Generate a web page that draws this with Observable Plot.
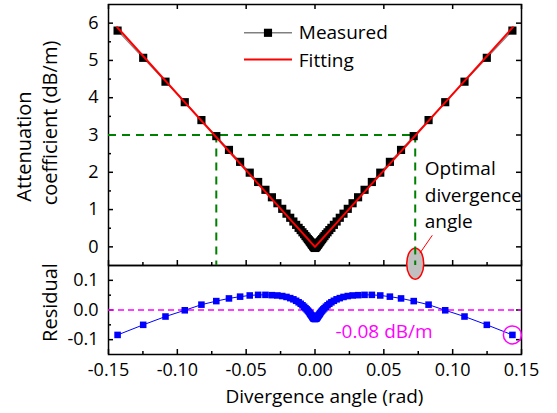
<!DOCTYPE html>
<html><head><meta charset="utf-8">
<script src="https://cdn.jsdelivr.net/npm/d3@7"></script>
<script src="https://cdn.jsdelivr.net/npm/@observablehq/plot@0.6"></script>
<style>
body{margin:0;background:#fff;}
#chart{position:relative;width:557px;height:413px;}
#chart svg{position:absolute;left:0;top:0;}
</style></head><body><div id="chart"></div>
<script>
// Divergence angle (rad)
const angles = [-0.1434,-0.1248,-0.1086,-0.0946,-0.0825,-0.0717,-0.0625,-0.0544,-0.0474,-0.0413,
  -0.036,-0.0313,-0.0273,-0.0238,-0.0207,-0.018,-0.0157,-0.0137,-0.0119,-0.0104,
  -0.0091,-0.0079,-0.0069,-0.006,-0.0052,-0.0045,-0.0039,-0.0034,-0.003,-0.0026,
  -0.0023,-0.002,-0.0017,-0.0015,-0.0013,-0.0011,-0.001,-0.0008,-0.0007,-0.0005,-0.0003,
  0,
  0.0003,0.0005,0.0007,0.0008,0.001,0.0011,0.0013,0.0015,0.0017,0.002,
  0.0023,0.0026,0.003,0.0034,0.0039,0.0045,0.0052,0.006,0.0069,0.0079,
  0.0091,0.0104,0.0119,0.0137,0.0157,0.018,0.0207,0.0238,0.0273,0.0313,
  0.036,0.0413,0.0474,0.0544,0.0625,0.0717,0.0825,0.0946,0.1086,0.1248,0.1434];
// Measured attenuation coefficient (dB/m)
const attenuation = [5.80,5.07,4.43,3.88,3.40,2.97,2.60,2.28,1.99,1.74,
  1.53,1.33,1.17,1.02,0.89,0.78,0.68,0.59,0.51,0.45,
  0.39,0.34,0.29,0.25,0.21,0.18,0.15,0.13,0.11,0.09,
  0.07,0.06,0.05,0.04,0.03,0.02,0.01,0.01,0.00,-0.01,-0.02,
  -0.03,
  -0.02,-0.01,0.00,0.01,0.01,0.02,0.03,0.04,0.05,0.06,
  0.07,0.09,0.11,0.13,0.15,0.18,0.21,0.25,0.29,0.34,
  0.39,0.45,0.51,0.59,0.68,0.78,0.89,1.02,1.17,1.33,
  1.53,1.74,1.99,2.28,2.60,2.97,3.40,3.88,4.43,5.07,5.80];
// Residual (dB/m)
const residuals = [-0.084,-0.050,-0.022,-0.001,0.018,0.030,0.039,0.045,0.049,0.051,
  0.051,0.050,0.049,0.047,0.044,0.040,0.036,0.031,0.026,0.021,
  0.016,0.011,0.006,0.002,-0.002,-0.006,-0.010,-0.013,-0.016,-0.018,
  -0.020,-0.022,-0.024,-0.025,-0.026,-0.027,-0.028,-0.028,-0.029,-0.029,-0.030,
  -0.030,
  -0.030,-0.029,-0.029,-0.028,-0.028,-0.027,-0.026,-0.025,-0.024,-0.022,
  -0.020,-0.018,-0.016,-0.013,-0.010,-0.006,-0.002,0.002,0.006,0.011,
  0.016,0.021,0.026,0.031,0.036,0.040,0.044,0.047,0.049,0.050,
  0.051,0.051,0.049,0.045,0.039,0.030,0.018,-0.001,-0.022,-0.050,-0.084];
// Linear fit
const fitAngles = [-0.1437, 0, 0.1437];
const fitValues = [5.89, 0, 5.89];
// Optimal divergence angle annotation
const optimalAngles = [-0.0717, 0.0728];
const thresholdLevel = [3];
const pointerFrom = {x: 0.0852, y: 0.31};
const pointerTo = {x: 0.0762, y: -0.17};
const markerAt = {x: 0.0728, y: -0.45};
const residualNote = "-0.08 dB/m";
// Scales and ticks
const xDomain = [-0.15, 0.15];
const yDomain = [-0.5, 6.5];
const rDomain = [-0.15, 0.15];
const xMajor = [-0.15, -0.1, -0.05, 0, 0.05, 0.1, 0.15];
const xMinor = [-0.125, -0.075, -0.025, 0.025, 0.075, 0.125];
const yMajor = [0, 1, 2, 3, 4, 5, 6];
const yMinor = [0.5, 1.5, 2.5, 3.5, 4.5, 5.5];
const rMajor = [-0.1, 0, 0.1];
const rMinor = [-0.05, 0.05];

const measured = angles.map((x, i) => ({x, y: attenuation[i]}));
const resid = angles.map((x, i) => ({x, y: residuals[i]}));
const fit = fitAngles.map((x, i) => ({x, y: fitValues[i]}));

const FONT = "'Open Sans', 'Noto Sans', sans-serif";
const W = 557, H = 413, ML = 108, MR = 36;
const mainTop = 4, mainBottom = 265, resBottom = 354;
const mainH = mainBottom - mainTop, resH = resBottom - mainBottom, frameW = W - ML - MR;

const ellipseSymbol = {draw(ctx) {
  const rx = 8.5, ry = 15.5, k = 0.5523;
  ctx.moveTo(rx, 0);
  ctx.bezierCurveTo(rx, ry * k, rx * k, ry, 0, ry);
  ctx.bezierCurveTo(-rx * k, ry, -rx, ry * k, -rx, 0);
  ctx.bezierCurveTo(-rx, -ry * k, -rx * k, -ry, 0, -ry);
  ctx.bezierCurveTo(rx * k, -ry, rx, -ry * k, rx, 0);
  ctx.closePath();
}};
const hline = {draw(ctx) { ctx.moveTo(-24, 0); ctx.lineTo(24, 0); }};

const tickStyle = {stroke: "black", strokeWidth: 1.5};
const label = (txt, opts) => Plot.text([txt], {text: d => d, lineAnchor: "middle", fill: "black", ...opts});

const mainPlot = Plot.plot({
  width: W, height: H,
  marginTop: mainTop, marginBottom: H - mainBottom, marginLeft: ML, marginRight: MR,
  style: {background: "transparent", fontFamily: FONT, fontSize: "18px", color: "black", overflow: "visible"},
  x: {domain: xDomain, axis: null},
  y: {domain: yDomain, ticks: yMajor, tickSize: 0, tickPadding: 10, tickFormat: d => String(d), label: null},
  marks: [
    Plot.frame({stroke: "black", strokeWidth: 1.5}),
    Plot.tickX(xMajor, {x: d => d, insetTop: mainH - 5, ...tickStyle}),
    Plot.tickX(xMinor, {x: d => d, insetTop: mainH - 3, ...tickStyle}),
    Plot.tickX(xMajor, {x: d => d, insetBottom: mainH - 5, ...tickStyle}),
    Plot.tickY(yMajor, {y: d => d, insetRight: frameW - 5, ...tickStyle}),
    Plot.tickY(yMinor, {y: d => d, insetRight: frameW - 3, ...tickStyle}),
    Plot.tickY(yMajor, {y: d => d, insetLeft: frameW - 5, ...tickStyle}),
    // optimal angle marker
    Plot.dot([markerAt], {x: "x", y: "y", symbol: ellipseSymbol, fill: "#c0c0c0", stroke: "red", strokeWidth: 1.5}),
    Plot.link([{pointerFrom, pointerTo}], {x1: d => d.pointerFrom.x, y1: d => d.pointerFrom.y, x2: d => d.pointerTo.x, y2: d => d.pointerTo.y, stroke: "red", strokeWidth: 1}),
    // dashed guide lines
    Plot.ruleY(thresholdLevel, {y: d => d, x1: xDomain[0], x2: optimalAngles[1], stroke: "#008000", strokeWidth: 2, strokeDasharray: "8,6"}),
    Plot.ruleX(optimalAngles, {x: d => d, y1: thresholdLevel[0], y2: yDomain[0], stroke: "#008000", strokeWidth: 2, strokeDasharray: "8,6"}),
    // measured data
    Plot.line(measured, {x: "x", y: "y", stroke: "#808080", strokeWidth: 1.2}),
    Plot.dot(measured, {x: "x", y: "y", symbol: "square", r: 4.6, fill: "black", stroke: "none"}),
    // fitting
    Plot.line(fit, {x: "x", y: "y", stroke: "red", strokeWidth: 2}),
    // legend
    Plot.dot([0], {frameAnchor: "top-left", dx: 159.5, dy: 28.3, symbol: hline, fill: "none", stroke: "#808080", strokeWidth: 1.5}),
    Plot.dot([0], {frameAnchor: "top-left", dx: 159.5, dy: 28.3, symbol: "square", r: 4.6, fill: "black", stroke: "none"}),
    Plot.dot([0], {frameAnchor: "top-left", dx: 159.5, dy: 55, symbol: hline, fill: "none", stroke: "red", strokeWidth: 2}),
    label("Measured", {frameAnchor: "top-left", dx: 190.3, dy: 28.2, textAnchor: "start", fontSize: 19}),
    label("Fitting", {frameAnchor: "top-left", dx: 190.3, dy: 56, textAnchor: "start", fontSize: 19}),
    // annotation
    label("Optimal\ndivergence\nangle", {frameAnchor: "top-left", dx: 316.3, dy: 152.5, textAnchor: "start", lineAnchor: "top", lineHeight: 1.37, fontSize: 19}),
    // y-axis title
    label("Attenuation", {frameAnchor: "left", textAnchor: "middle", rotate: -90, dx: 23.6 - ML, dy: 146 - (mainTop + mainBottom) / 2, fontSize: 20}),
    label("coefficient (dB/m)", {frameAnchor: "left", textAnchor: "middle", rotate: -90, dx: 50 - ML, dy: 122.5 - (mainTop + mainBottom) / 2, fontSize: 20})
  ]
});

const residPlot = Plot.plot({
  width: W, height: H,
  marginTop: mainBottom, marginBottom: H - resBottom, marginLeft: ML, marginRight: MR,
  style: {background: "white", fontFamily: FONT, fontSize: "18px", color: "black", overflow: "visible"},
  x: {domain: xDomain, ticks: xMajor, tickSize: 0, tickPadding: 9, tickFormat: d => d.toFixed(2), label: null},
  y: {domain: rDomain, ticks: rMajor, tickSize: 0, tickPadding: 10, tickFormat: d => d.toFixed(1), label: null},
  marks: [
    Plot.frame({stroke: "black", strokeWidth: 1.5}),
    Plot.tickX(xMajor, {x: d => d, insetTop: resH - 5, ...tickStyle}),
    Plot.tickX(xMinor, {x: d => d, insetTop: resH - 3, ...tickStyle}),
    Plot.tickY(rMajor, {y: d => d, insetRight: frameW - 5, ...tickStyle}),
    Plot.tickY(rMinor, {y: d => d, insetRight: frameW - 3, ...tickStyle}),
    Plot.tickY(rMajor, {y: d => d, insetLeft: frameW - 5, ...tickStyle}),
    Plot.ruleY([0], {stroke: "#ff00ff", strokeWidth: 1.5, strokeDasharray: "6,4"}),
    Plot.line(resid, {x: "x", y: "y", stroke: "#0000ff", strokeWidth: 1}),
    Plot.dot(resid, {x: "x", y: "y", symbol: "square", r: 3.7, fill: "#0000ff", stroke: "none"}),
    Plot.dot([resid[resid.length - 1]], {x: "x", y: "y", r: 9, fill: "none", stroke: "#ff00ff", strokeWidth: 1.5}),
    label(residualNote, {frameAnchor: "top-left", dx: 227, dy: 66.2, textAnchor: "start", fontSize: 19, fill: "#ff00ff"}),
    label("Residual", {frameAnchor: "left", textAnchor: "middle", rotate: -90, dx: 50.3 - ML, dy: 302 - (mainBottom + resBottom) / 2, fontSize: 20}),
    label("Divergence angle (rad)", {frameAnchor: "bottom", textAnchor: "middle", dx: 9.5, dy: 42.9, fontSize: 19})
  ]
});

const chart = document.getElementById("chart");
chart.appendChild(residPlot);
chart.appendChild(mainPlot);
</script>
</body></html>
